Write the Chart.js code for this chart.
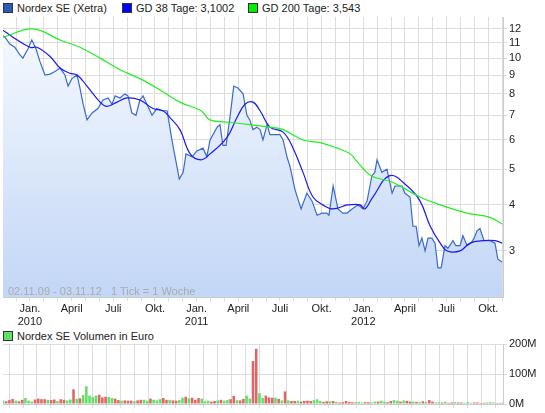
<!DOCTYPE html>
<html>
<head>
<meta charset="utf-8">
<script src="https://cdn.jsdelivr.net/npm/chart.js@4"></script>
<style>
body{margin:0;background:#fff;font-family:"Liberation Sans",Arial,sans-serif;}
#wrap{position:relative;width:545px;height:413px;}
.lg{position:absolute;font-size:11px;color:#222;white-space:nowrap;}
.sw{display:inline-block;width:8px;height:8px;border:1px solid #333;margin-right:4px;vertical-align:-1px;}
canvas{position:absolute;left:0;}
#note{position:absolute;left:8px;top:285px;font-size:11px;color:#aaa;}
</style>
</head>
<body>
<div id="wrap">
<div class="lg" style="left:3px;top:2px"><span class="sw" style="background:#2a5cb8"></span>Nordex SE (Xetra)</div>
<div class="lg" style="left:122px;top:2px"><span class="sw" style="background:#0000ff"></span>GD 38 Tage: 3,1002</div>
<div class="lg" style="left:248px;top:2px"><span class="sw" style="background:#00ee00"></span>GD 200 Tage: 3,543</div>
<div class="lg" style="left:3px;top:330px"><span class="sw" style="background:#66dd66"></span>Nordex SE Volumen in Euro</div>
<canvas id="price" width="545" height="330" style="top:0"></canvas>
<canvas id="vol" width="545" height="78" style="top:335px"></canvas>
<div id="note">02.11.09 - 03.11.12 &nbsp; 1 Tick = 1 Woche</div>
</div>
<script>
// weeks since 02.11.09
const priceWeeks = [0,0.6,2.2,3.7,5.3,6.2,7.8,9,10.3,11.5,13.1,14.7,16.2,17.8,19.3,20.3,21.5,23.1,24,25,26.2,27.8,29.6,31.2,32.8,34,35,36.5,38,39,40.2,41.5,42.7,43.7,44.9,46.5,48,49.6,51.2,52.7,55,56.2,57.1,59,60.5,62.4,63.6,64.6,66.8,67.7,68.6,69.6,70.8,72,73.3,74.9,76.1,77,78,79.2,80.2,81.1,82.4,83.3,84.9,86.4,87.4,88.6,89.5,91.1,93,94.8,96.4,98,99.5,101,101.7,103,104.5,106,107.3,108.9,110.8,112.3,113.6,115.1,116,116.7,118.2,119.8,121.4,122.3,124.5,125.4,127,127.9,128.9,129.8,130.7,131.7,132.6,133.8,134.8,135.7,136.7,137.9,138.8,140.4,141.3,142.6,143.5,144.8,146,147,147.9,148.8,150.1,151,151.9,153.5,154.4,155.7];
const priceVals = [11.5,11.4,10.9,10.7,10.2,10.0,10.6,11.2,10.6,9.8,9.0,9.05,9.2,9.4,9.0,8.4,8.8,9.0,8.3,7.5,6.8,7.1,7.3,7.7,7.8,7.5,7.9,7.8,8.0,7.9,7.1,7.0,7.7,7.9,7.5,7.0,7.3,7.2,7.2,6.0,4.7,4.9,5.5,5.4,5.6,5.7,5.4,6.0,6.5,6.6,5.8,5.8,6.9,8.4,8.3,8.0,7.0,6.8,6.4,6.5,6.4,6.0,6.6,6.2,6.2,6.2,6.0,5.4,5.1,4.4,3.9,4.3,4.1,3.75,3.8,3.8,3.75,4.5,3.9,3.8,3.8,3.9,4.0,3.9,4.1,4.8,4.9,5.3,4.9,5.0,4.3,4.5,4.5,4.3,4.2,3.5,3.5,3.1,3.25,3.0,3.25,3.25,3.15,2.7,2.7,3.1,3.05,3.2,3.1,3.1,3.3,3.1,3.15,3.25,3.4,3.45,3.2,3.2,3.2,3.15,2.85,2.8];
const gd38Weeks = [0,3.1,8.4,10.6,14.7,17.8,20.9,23.1,26.2,30.3,32.4,35.6,38.7,42.7,46.8,49.9,52.1,55.2,58.4,61.8,64.6,69.9,73,75.5,78,80.2,83.3,87.4,90.5,93.6,96.7,99.8,102.9,107.3,107.3,111.4,112.9,115.4,120.7,126.1,130.1,133.3,136.4,138.6,142.6,145.7,149.8,153.5,155.7];
const gd38Vals = [11.9,11.4,10.7,10.7,10.1,9.4,9.1,9.0,8.4,7.6,7.4,7.6,7.8,7.7,7.3,7.2,6.9,6.4,5.5,5.3,5.5,6.1,6.9,7.5,7.6,7.2,6.5,6.3,5.7,4.9,4.2,4.0,3.9,4.0,4.0,4.0,3.9,4.2,4.8,4.5,4.1,3.5,3.15,3.0,3.0,3.15,3.2,3.2,3.15];
const gd200Weeks = [0,9.4,17.8,24,30.3,36.5,42.7,49,55.2,61.8,64.6,70.8,77,83.3,87.4,93.6,98.9,104.2,108.3,110.8,114.8,121.7,130.1,136.4,144.8,151.9,155.7];
const gd200Vals = [11.4,12.0,11.2,10.7,10.0,9.3,8.8,8.2,7.6,7.2,6.8,6.7,6.6,6.5,6.4,6.0,5.9,5.7,5.5,5.2,4.8,4.6,4.2,4.0,3.8,3.7,3.55];
const yTicks = [3,4,5,6,7,8,9,10,11,12];
const monthLabels = {2:'Jan.|2010',5:'April',8:'Juli',11:'Okt.',14:'Jan.|2011',17:'April',20:'Juli',23:'Okt.',26:'Jan.|2012',29:'April',32:'Juli',35:'Okt.'};
// weekly volume in million euro
const volumes = [12,9,13,17,11,9,14,20,11,8,15,18,16,16,14,13,15,10,16,14,12,15,49,17,19,30,59,28,23,28,31,22,24,23,20,18,13,11,12,11,11,9,12,14,14,11,18,14,12,16,20,14,14,12,11,13,21,24,19,21,14,20,18,9,11,8,10,12,14,11,13,16,27,13,12,17,28,18,143,184,36,20,28,22,21,21,17,12,42,12,10,10,11,8,10,11,10,13,16,10,7,9,9,10,7,5,6,10,7,6,6,7,5,6,6,5,8,8,11,8,6,10,13,11,8,12,10,8,8,7,6,9,7,13,8,5,6,5,7,4,5,6,5,5,4,6,4,5,5,3,4,5,6,5,3,4,4];
const volUp = 'grrrgrrgggrrrrgrrgrrggrgrgggggrrrggrrgrrrgrrggrgggrrgrrggrgrrrgggrrgrggrrgrrggrrggrrrgrgrgrrgrrrrgggrrgrgrrrrrgggrrggrggrrggrgrrgrgrgrrggrgrrgrrgggrrrrgggrgrg';

const W0 = -0.25, WPM = 4.333, XMIN = 0, XMAX = 156;
const monthTicks = [];
for (let m = 0; m <= 36; m++) { const w = W0 + m * WPM; if (w >= XMIN && w <= XMAX) monthTicks.push({value: w, m: m}); }
function monthOf(v){ return Math.round((v - W0) / WPM); }

const gridCol = '#dcdcdc';
const xAxisBase = {
  type: 'linear', min: XMIN, max: XMAX,
  afterBuildTicks: ax => { ax.ticks = monthTicks.map(t => ({value: t.value})); },
  grid: {color: gridCol, drawTicks: true, tickLength: 4},
  border: {color: '#ccc'}
};

const pts = (ws, vs) => ws.map((w, i) => ({x: w, y: vs[i]}));

new Chart(document.getElementById('price'), {
  type: 'line',
  data: {datasets: [
    {data: pts(gd200Weeks, gd200Vals), borderColor: '#22ee22', borderWidth: 1.2, pointRadius: 0, tension: 0.4, fill: false},
    {data: pts(gd38Weeks, gd38Vals), borderColor: '#1a1aee', borderWidth: 1.2, pointRadius: 0, tension: 0.4, fill: false},
    {data: pts(priceWeeks, priceVals), borderColor: '#3a6acc', borderWidth: 1.2, pointRadius: 0, tension: 0,
     fill: 'start',
     backgroundColor: ctx => {
       const a = ctx.chart.chartArea; if (!a) return '#dfe9fb';
       const g = ctx.chart.ctx.createLinearGradient(0, a.top, 0, a.bottom);
       g.addColorStop(0, '#f8fbff'); g.addColorStop(1, '#c2d6f6'); return g;
     }}
  ]},
  options: {
    animation: false, responsive: false,
    layout: {padding: {left: 3, top: 17, right: 0, bottom: 0}},
    plugins: {legend: {display: false}, tooltip: {enabled: false}},
    scales: {
      x: Object.assign({}, xAxisBase, {
        afterFit: ax => { ax.height = 33; },
        ticks: {autoSkip: false, maxRotation: 0, color: '#222', font: {size: 11, family: 'Liberation Sans'}, padding: 1,
          callback: v => { const l = monthLabels[monthOf(v)]; return l ? l.split('|') : ''; }}
      }),
      y: {type: 'logarithmic', position: 'right', min: 2.25, max: 12.93,
        afterBuildTicks: ax => { ax.ticks = yTicks.map(v => ({value: v})); },
        afterFit: ax => { ax.width = 42; },
        grid: {color: gridCol, tickLength: 4},
        border: {color: '#ccc'},
        ticks: {color: '#222', font: {size: 11, family: 'Liberation Sans'}, padding: 2, callback: v => String(v)}}
    }
  }
});

new Chart(document.getElementById('vol'), {
  type: 'bar',
  data: {datasets: [{
    data: volumes.map((v, i) => ({x: i, y: v})),
    backgroundColor: volumes.map((v, i) => volUp[i] === 'g' ? '#66dd66' : '#dd6666'),
    barPercentage: 0.8, categoryPercentage: 1
  }]},
  options: {
    animation: false, responsive: false,
    layout: {padding: {left: 3, top: 9, right: 0, bottom: 5}},
    plugins: {legend: {display: false}, tooltip: {enabled: false}},
    scales: {
      x: Object.assign({}, xAxisBase, {offset: false, ticks: {display: false}, afterFit: ax => { ax.height = 4; }}),
      y: {position: 'right', min: 0, max: 200,
        afterBuildTicks: ax => { ax.ticks = [0, 100, 200].map(v => ({value: v})); },
        afterFit: ax => { ax.width = 42; },
        grid: {color: gridCol, tickLength: 4}, border: {color: '#ccc'},
        ticks: {color: '#222', font: {size: 11, family: 'Liberation Sans'}, padding: 2, callback: v => v + 'M'}}
    }
  }
});
</script>
</body>
</html>
